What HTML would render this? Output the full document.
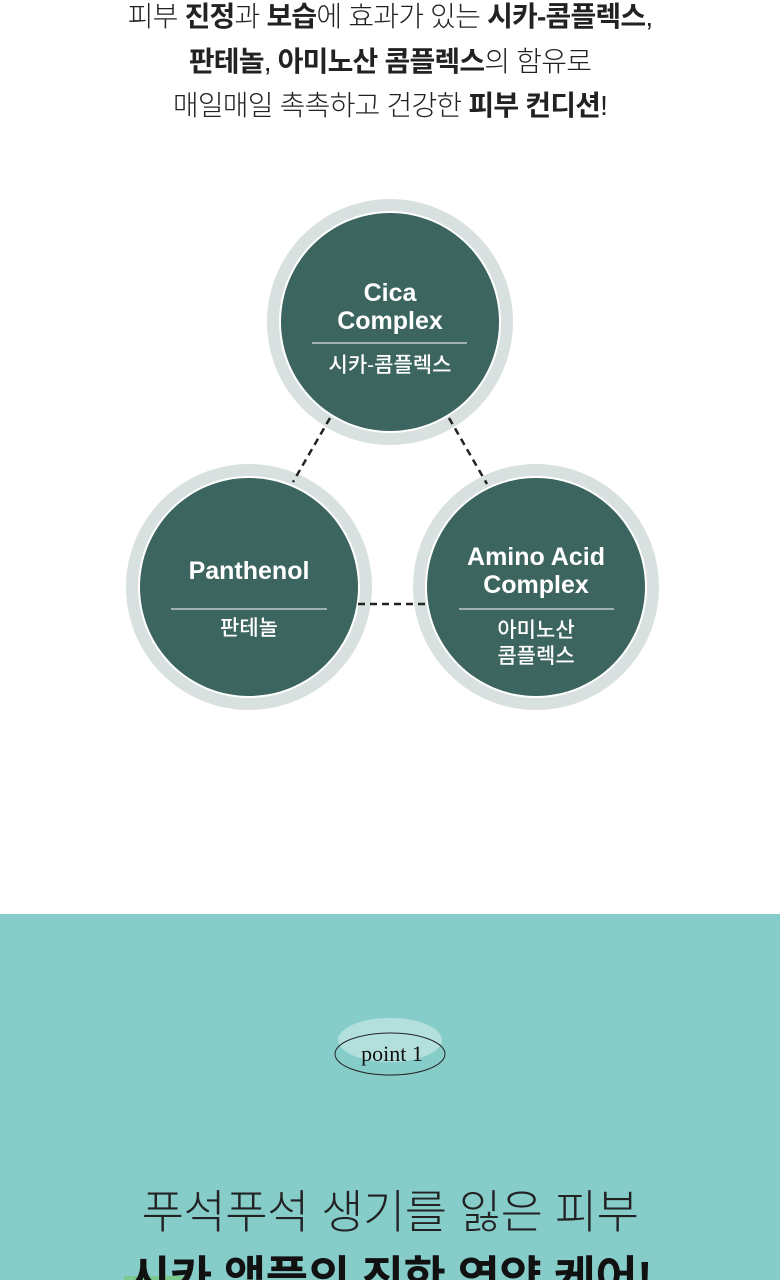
<!DOCTYPE html>
<html><head><meta charset="utf-8"><style>
body{margin:0;width:780px;height:1280px;overflow:hidden;background:#fff;font-family:"Liberation Sans","Noto Sans CJK KR",sans-serif;position:relative}
.t{position:absolute;left:0;width:780px;text-align:center;color:#222;font-size:28px;font-weight:300;letter-spacing:-0.8px}
.t b{font-weight:700}
</style></head><body>
<div class="t" style="top:-5px">피부 <b>진정</b>과 <b>보습</b>에 효과가 있는 <b>시카-콤플렉스</b>,</div>
<div class="t" style="top:40px"><b>판테놀</b>, <b>아미노산 콤플렉스</b>의 함유로</div>
<div class="t" style="top:84px">매일매일 촉촉하고 건강한 <b>피부 컨디션</b>!</div>
<svg width="780" height="914" style="position:absolute;left:0;top:0" font-family="Liberation Sans, Noto Sans CJK KR, sans-serif">
<g fill="#d8e1df"><circle cx="390" cy="322" r="123"/><circle cx="249" cy="587" r="123"/><circle cx="536" cy="587" r="123"/></g>
<g fill="#fff"><circle cx="390" cy="322" r="111"/><circle cx="249" cy="587" r="111"/><circle cx="536" cy="587" r="111"/></g>
<g fill="#3d655f"><circle cx="390" cy="322" r="109"/><circle cx="249" cy="587" r="109"/><circle cx="536" cy="587" r="109"/></g>
<g stroke="#222" stroke-width="2.5" stroke-dasharray="7,5">
<line x1="330" y1="418" x2="293" y2="482"/><line x1="449" y1="418" x2="487" y2="484"/><line x1="358" y1="604" x2="427" y2="604"/>
</g>
<g stroke="#fff" stroke-width="1"><line x1="312" y1="343" x2="467" y2="343"/><line x1="171" y1="609" x2="327" y2="609"/><line x1="459" y1="609" x2="614" y2="609"/></g>
<g fill="#fff" text-anchor="middle" font-weight="700" font-size="25">
<text x="390" y="301">Cica</text><text x="390" y="329">Complex</text>
<text x="249" y="579">Panthenol</text>
<text x="536" y="565">Amino Acid</text><text x="536" y="593">Complex</text>
</g>
<g fill="#fff" text-anchor="middle" font-size="21" font-weight="500">
<text x="390" y="372">시카-콤플렉스</text>
<text x="249" y="635">판테놀</text>
<text x="536" y="637">아미노산</text><text x="536" y="663">콤플렉스</text>
</g>
</svg>
<div style="position:absolute;left:0;top:914px;width:780px;height:366px;background:#86ccc9;overflow:hidden">
<svg width="780" height="366" style="position:absolute;left:0;top:0">
<ellipse cx="390" cy="126" rx="52" ry="22" fill="#b3e0dd"/>
<ellipse cx="390" cy="140" rx="55" ry="21" fill="none" stroke="#222" stroke-width="1"/>
<text x="392" y="147" text-anchor="middle" font-family="Liberation Serif, serif" font-size="22" fill="#111">point 1</text>
<rect x="124" y="362" width="60" height="6" fill="#7bc98f"/>
</svg>
<div style="position:absolute;left:0;top:270px;width:780px;text-align:center;font-size:46px;font-weight:300;color:#222;line-height:56px;letter-spacing:-0.5px">푸석푸석 생기를 잃은 피부</div>
<div style="position:absolute;left:0;top:336px;width:780px;text-align:center;font-size:46px;font-weight:700;color:#111;line-height:56px;letter-spacing:-0.5px">시카 앰플의 진한 영양 케어!</div>
</div>
</body></html>
